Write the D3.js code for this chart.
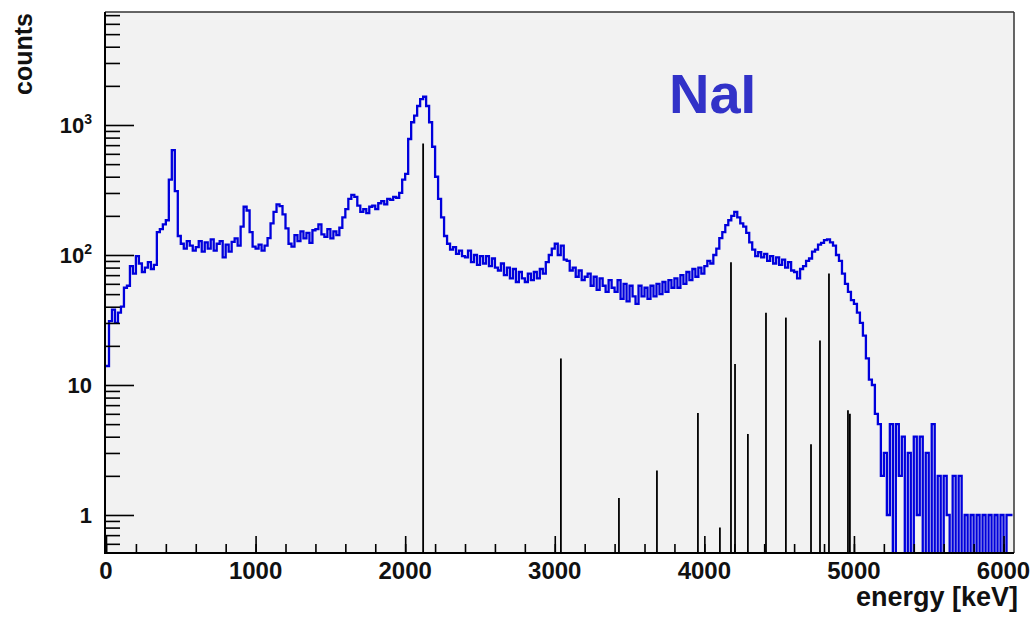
<!DOCTYPE html>
<html>
<head>
<meta charset="utf-8">
<script src="https://cdn.jsdelivr.net/npm/d3@7/dist/d3.min.js"></script>
<style>
  html, body { margin: 0; padding: 0; background: #fff; }
  svg { display: block; }
  text { font-family: "Liberation Sans", Arial, sans-serif; font-weight: bold; fill: #111; }
</style>
</head>
<body>
<div id="chart"></div>
<script>

/**************************************************
 * Data                                           *
 **************************************************/

// measured NaI spectrum, 20 keV bins starting at 0 keV
var binWidth = 20;
var counts = [
  14, 31, 38, 30, 36, 40, 56, 58, 82, 72,
  98, 86, 74, 80, 88, 78, 84, 150, 158, 172,
  185, 380, 640, 310, 140, 122, 112, 128, 118, 108,
  115, 128, 106, 125, 112, 132, 108, 122, 128, 96,
  120, 106, 126, 134, 118, 165, 235, 220, 150, 116,
  112, 120, 108, 118, 135, 175, 215, 245, 238, 205,
  160, 122, 116, 142, 128, 152, 134, 148, 124, 155,
  158, 172, 144, 138, 158, 134, 152, 142, 162, 195,
  225, 270, 290, 280, 240, 215, 225, 210, 235, 240,
  225, 250, 260, 245, 270, 265, 280, 275, 300, 380,
  420, 780, 1050, 1180, 1400, 1580, 1650, 1400, 1050, 680,
  400, 270, 195, 140, 122, 110, 115, 102, 108, 98,
  96, 108, 88, 100, 84, 98, 86, 98, 82, 94,
  80, 76, 86, 70, 80, 66, 78, 62, 74, 66,
  62, 72, 64, 74, 66, 78, 72, 88, 100, 112,
  122, 100, 118, 92, 90, 76, 80, 68, 76, 64,
  68, 72, 58, 68, 54, 66, 58, 52, 64, 56,
  52, 64, 46, 60, 44, 58, 48, 42, 58, 48,
  56, 46, 58, 48, 60, 50, 62, 52, 64, 56,
  66, 56, 70, 60, 74, 64, 78, 68, 80, 72,
  82, 90, 86, 100, 112, 135, 150, 170, 185, 200,
  215, 195, 175, 165, 148, 125, 110, 98, 105, 96,
  102, 90, 98, 86, 96, 84, 92, 80, 88, 76,
  74, 66, 78, 82, 90, 94, 106, 110, 120, 124,
  130, 132, 125, 118, 100, 90, 72, 60, 52, 45,
  42, 36, 30, 24, 16, 11, 10, 6, 5, 2,
  3, 1, 5, 0, 5, 2, 4, 0, 3, 0,
  4, 1, 4, 0, 3, 0, 5, 0, 2, 0,
  2, 1, 0, 2, 0, 2, 0, 1, 0, 1,
  0, 1, 0, 1, 0, 1, 0, 1, 0, 1,
  0, 1, 1
];

// simulated gamma lines (black sticks)
var lineEnergies = [2120, 3041, 3429, 3683, 3957, 4104, 4178, 4205, 4291, 4412, 4545, 4713, 4773, 4833, 4960, 4973];
var lineHeights  = [720, 16, 1.35, 2.2, 6.1, 0.8, 88, 14.5, 4.2, 36, 33, 3.5, 22, 72, 6.4, 6.0];

var xTicks = [0, 1000, 2000, 3000, 4000, 5000, 6000];
var xTickLabels = ['0', '1000', '2000', '3000', '4000', '5000', '6000'];
var yTicks = [1, 10, 100, 1000];
var yTickBase = ['1', '10', '10', '10'];
var yTickExp = ['', '', '2', '3'];

/**************************************************
 * Layout                                         *
 **************************************************/

var width = 1036,
  height = 618;

var frame = { left: 105, right: 1014, top: 12, bottom: 553 };

var options = {
  frameFill: '#f2f2f2',
  histColor: '#0000dc',
  lineColor: '#000',
  titleColor: '#3232c8'
};

var svg = d3.select('#chart').append('svg')
  .attr('width', width)
  .attr('height', height);

svg.append('rect').attr('width', width).attr('height', height).attr('fill', '#fff');

var x = d3.scaleLinear().domain([0, 6070]).range([106, frame.right]);
var y = d3.scaleLog().domain([0.51, 7400]).range([frame.bottom, frame.top]);

svg.append('rect')
  .attr('x', frame.left)
  .attr('y', frame.top)
  .attr('width', frame.right - frame.left)
  .attr('height', frame.bottom - frame.top)
  .attr('fill', options.frameFill);

svg.append('clipPath').attr('id', 'plotClip')
  .append('rect')
  .attr('x', frame.left)
  .attr('y', frame.top)
  .attr('width', frame.right - frame.left)
  .attr('height', frame.bottom - frame.top);

var plot = svg.append('g').attr('clip-path', 'url(#plotClip)');

/**************************************************
 * Histogram                                      *
 **************************************************/

var steps = counts.map(function(c, i) {
  return { e: i * binWidth, c: c };
});
steps.push({ e: counts.length * binWidth, c: counts[counts.length - 1] });

var histLine = d3.line()
  .x(function(d) { return x(d.e); })
  .y(function(d) { return d.c > 0 ? y(d.c) : frame.bottom + 3; })
  .curve(d3.curveStepAfter);

plot.append('path')
  .datum(steps)
  .attr('d', histLine)
  .attr('fill', 'none')
  .attr('stroke', options.histColor)
  .attr('stroke-width', 2.3)
  .attr('stroke-linejoin', 'miter');

// gamma lines
plot.selectAll('line.gamma')
  .data(lineEnergies)
  .enter().append('line')
  .attr('class', 'gamma')
  .attr('x1', function(d) { return x(d); })
  .attr('x2', function(d) { return x(d); })
  .attr('y1', frame.bottom)
  .attr('y2', function(d, i) { return y(lineHeights[i]); })
  .attr('stroke', options.lineColor)
  .attr('stroke-width', 1.8);

/**************************************************
 * Axes                                           *
 **************************************************/

function styleTicks(g) {
  g.select('.domain').remove();
  g.selectAll('.tick line').attr('stroke', '#000').attr('stroke-width', 1.6);
  g.selectAll('.tick text').remove();
}

var xMinor = d3.range(0, 6001, 200);
svg.append('g')
  .attr('transform', 'translate(0,' + frame.bottom + ')')
  .call(d3.axisBottom(x).tickValues(xMinor).tickSize(-9))
  .call(styleTicks);
svg.append('g')
  .attr('transform', 'translate(0,' + frame.bottom + ')')
  .call(d3.axisBottom(x).tickValues(xTicks).tickSize(-17))
  .call(styleTicks);

var yMinor = [];
[0.1, 1, 10, 100, 1000].forEach(function(decade) {
  for (var k = 2; k <= 9; k++) {
    var v = decade * k;
    if (v >= 0.51 && v <= 7400) yMinor.push(v);
  }
});
svg.append('g')
  .attr('transform', 'translate(' + frame.left + ',0)')
  .call(d3.axisLeft(y).tickValues(yMinor).tickSize(-15))
  .call(styleTicks);
svg.append('g')
  .attr('transform', 'translate(' + frame.left + ',0)')
  .call(d3.axisLeft(y).tickValues(yTicks).tickSize(-29))
  .call(styleTicks);

// frame border
svg.append('line').attr('x1', frame.left).attr('x2', frame.right).attr('y1', frame.top).attr('y2', frame.top)
  .attr('stroke', '#333').attr('stroke-width', 1.5);
svg.append('line').attr('x1', frame.right).attr('x2', frame.right).attr('y1', frame.top).attr('y2', frame.bottom)
  .attr('stroke', '#333').attr('stroke-width', 1.5);
svg.append('line').attr('x1', frame.left).attr('x2', frame.left).attr('y1', frame.top).attr('y2', frame.bottom + 1)
  .attr('stroke', '#000').attr('stroke-width', 2);
svg.append('line').attr('x1', frame.left - 1).attr('x2', frame.right).attr('y1', frame.bottom).attr('y2', frame.bottom)
  .attr('stroke', '#000').attr('stroke-width', 2);

/**************************************************
 * Labels                                         *
 **************************************************/

svg.selectAll('text.xlab')
  .data(xTicks)
  .enter().append('text')
  .attr('class', 'xlab')
  .attr('x', function(d) { return x(d); })
  .attr('y', 579)
  .attr('text-anchor', 'middle')
  .attr('font-size', 24)
  .text(function(d, i) { return xTickLabels[i]; });

var ylab = svg.selectAll('text.ylab')
  .data(yTicks)
  .enter().append('text')
  .attr('class', 'ylab')
  .attr('x', 92)
  .attr('y', function(d) { return y(d) + 8; })
  .attr('text-anchor', 'end')
  .attr('font-size', 22);
ylab.append('tspan').text(function(d, i) { return yTickBase[i]; });
ylab.append('tspan')
  .attr('font-size', 14)
  .attr('dy', -9)
  .text(function(d, i) { return yTickExp[i]; });

svg.append('text')
  .attr('x', 1018)
  .attr('y', 606)
  .attr('text-anchor', 'end')
  .attr('font-size', 27)
  .text('energy [keV]');

svg.append('text')
  .attr('transform', 'translate(32,13) rotate(-90)')
  .attr('text-anchor', 'end')
  .attr('font-size', 25)
  .text('counts');

svg.append('text')
  .attr('x', 669)
  .attr('y', 113)
  .attr('font-size', 56)
  .style('fill', options.titleColor)
  .text('NaI');

</script>
</body>
</html>
